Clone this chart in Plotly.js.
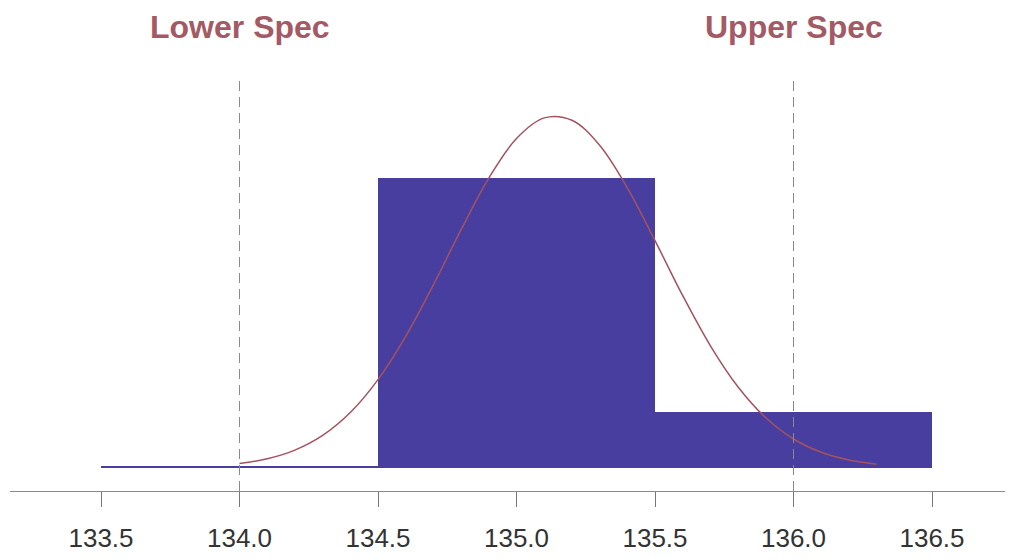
<!DOCTYPE html>
<html>
<head>
<meta charset="utf-8">
<script src="https://cdn.plot.ly/plotly-3.0.1.min.js"></script>
<style>html,body{margin:0;padding:0;background:#fff;}#chart{width:1009px;height:560px;}</style>
</head>
<body>
<div id="chart"></div>
<script>
// Histogram bins (centers), bin width 1
const binCenters = [134.0, 135.0, 136.0];
const binCounts = [0.25, 29.0, 5.6];
// Fitted normal curve
const curveX = [134.0, 134.1, 134.2, 134.3, 134.4, 134.5, 134.6, 134.7, 134.8, 134.9, 135.0, 135.1, 135.2, 135.3, 135.4, 135.5, 135.6, 135.7, 135.8, 135.9, 136.0, 136.1, 136.2, 136.3];
const curveY = [0.44, 0.92, 1.79, 3.26, 5.55, 8.84, 13.16, 18.32, 23.83, 28.99, 32.95, 35.01, 34.78, 32.28, 28.02, 22.74, 17.24, 12.22, 8.10, 5.02, 2.90, 1.57, 0.80, 0.38];
// Spec limits
const specLabels = ["Lower Spec", "Upper Spec"];
const specValues = [134.0, 136.0];
const specLineTop = 38.8;
const specLineBottom = -2.3;
// Tick labels
const tickVals = [133.5, 134.0, 134.5, 135.0, 135.5, 136.0, 136.5];
const tickText = ["133.5", "134.0", "134.5", "135.0", "135.5", "136.0", "136.5"];

const barColor = "rgb(72,62,160)";
const curveColor = "#a4525f";
const specColor = "#a35a65";

const traces = [
  {
    type: "bar", x: binCenters, y: binCounts, width: 1,
    marker: {color: barColor, line: {width: 0}},
    hoverinfo: "skip", showlegend: false
  },
  {
    type: "scatter", mode: "lines", x: curveX, y: curveY,
    line: {color: curveColor, width: 1.5, shape: "spline"},
    hoverinfo: "skip", showlegend: false
  }
];
specValues.forEach(v => {
  traces.push({
    type: "scatter", mode: "lines", x: [v, v], y: [specLineBottom, specLineTop],
    line: {color: "#8a8a8a", width: 1, dash: "10px,6px"},
    hoverinfo: "skip", showlegend: false
  });
});

const layout = {
  width: 1009, height: 560,
  margin: {l: 10, r: 4, t: 0, b: 0, pad: 0},
  paper_bgcolor: "#fff", plot_bgcolor: "#fff",
  bargap: 0,
  xaxis: {
    range: [133.1715, 136.7635],
    anchor: "free", position: 1 - 491/560,
    showgrid: false, zeroline: false,
    showline: true, linecolor: "#8a8a8a", linewidth: 1,
    ticks: "outside", ticklen: 15, tickcolor: "#777", tickwidth: 1,
    tickvals: tickVals, ticktext: tickText,
    tickfont: {family: "Liberation Sans, Arial, sans-serif", size: 26, color: "#333"},
    ticklabelstandoff: 9
  },
  yaxis: {
    range: [-9.2, 46.8],
    visible: false, showgrid: false, zeroline: false, fixedrange: true
  },
  annotations: specLabels.map((t, i) => ({
    text: "<b>" + t + "</b>", x: specValues[i], xref: "x", y: 1 - 27/560, yref: "paper",
    xanchor: "center", yanchor: "middle", showarrow: false,
    font: {family: "Liberation Sans, Arial, sans-serif", size: 32, color: specColor}
  }))
};

Plotly.newPlot("chart", traces, layout, {staticPlot: true, displayModeBar: false});
</script>
</body>
</html>
